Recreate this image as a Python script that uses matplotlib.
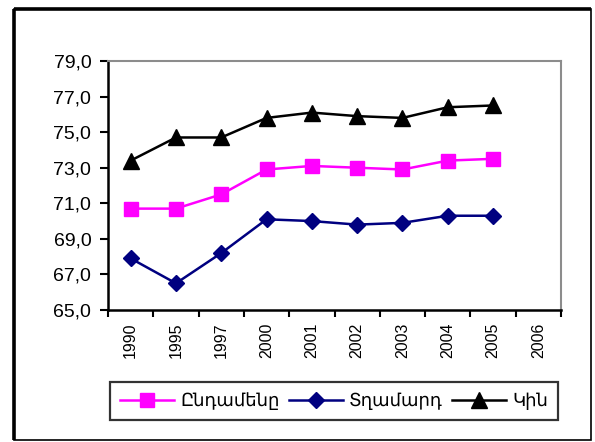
import matplotlib
matplotlib.use('Agg')
import matplotlib.pyplot as plt
from matplotlib.patches import Rectangle
from matplotlib.ticker import FuncFormatter, FixedLocator

plt.rcParams['font.family'] = ['Liberation Sans', 'DejaVu Sans']

# data
years = ['1990', '1995', '1997', '2000', '2001', '2002', '2003', '2004', '2005', '2006']
total = [70.7, 70.7, 71.5, 72.9, 73.1, 73.0, 72.9, 73.4, 73.5]
men = [67.9, 66.5, 68.2, 70.1, 70.0, 69.8, 69.9, 70.3, 70.3]
women = [73.4, 74.7, 74.7, 75.8, 76.1, 75.9, 75.8, 76.4, 76.5]
names = ['Ընդամենը', 'Տղամարդ', 'Կին']

fig = plt.figure(figsize=(5.95, 4.42), dpi=100)
ax = fig.add_axes([108/595, 1-310/442, (561-108)/595, (310-61)/442])

x = list(range(len(total)))
ax.plot(x, total, color='#ff00ff', lw=1.8, marker='s', ms=10.5, label=names[0])
ax.plot(x, men, color='#000080', lw=1.8, marker='D', ms=8.5, label=names[1])
ax.plot(x, women, color='black', lw=1.8, marker='^', ms=11, label=names[2])

ax.set_xlim(-0.5, len(years) - 0.5)
ax.set_ylim(65, 79)
ax.set_yticks([65, 67, 69, 71, 73, 75, 77, 79])
ax.yaxis.set_major_formatter(FuncFormatter(lambda v, p: f'{v:.1f}'.replace('.', ',')))
ax.tick_params(axis='y', labelsize=14, length=6, width=1.5, direction='out', pad=6)

ax.xaxis.set_major_locator(FixedLocator([i - 0.5 for i in range(len(years) + 1)]))
ax.xaxis.set_minor_locator(FixedLocator(range(len(years))))
ax.set_xticklabels([], minor=False)
ax.set_xticklabels(years, minor=True, rotation=90)
ax.tick_params(axis='x', which='major', length=5, width=1.5, direction='out')
ax.tick_params(axis='x', which='minor', length=0, labelsize=11.5, pad=9)

for s in ['left', 'bottom']:
    ax.spines[s].set_linewidth(1.8)
    ax.spines[s].set_color('black')
for s in ['top', 'right']:
    ax.spines[s].set_linewidth(1.5)
    ax.spines[s].set_color('#8c8c8c')

leg = fig.legend(loc='center', bbox_to_anchor=(334/595, 1-401/442), ncol=3,
                 handlelength=3.0, columnspacing=0.5, handletextpad=0.35,
                 frameon=True, fancybox=False, edgecolor='black', borderpad=0.55,
                 borderaxespad=0, prop={'family': ['DejaVu Sans'], 'size': 13})
leg.get_frame().set_linewidth(1.6)

# outer border of the chart
fig.patches.append(Rectangle((14/595, 1-440/442), (591-14)/595, (440-9)/442,
                             transform=fig.transFigure, fill=False,
                             edgecolor='black', lw=1.2))
fig.patches.append(Rectangle((14/595, 1-440/442), 0, (440-9)/442,
                             transform=fig.transFigure, fill=False,
                             edgecolor='black', lw=2.6))
fig.patches.append(Rectangle((14/595, 1-9/442), (591-14)/595, 0,
                             transform=fig.transFigure, fill=False,
                             edgecolor='black', lw=2.6))

fig.savefig('out.png', dpi=100)
